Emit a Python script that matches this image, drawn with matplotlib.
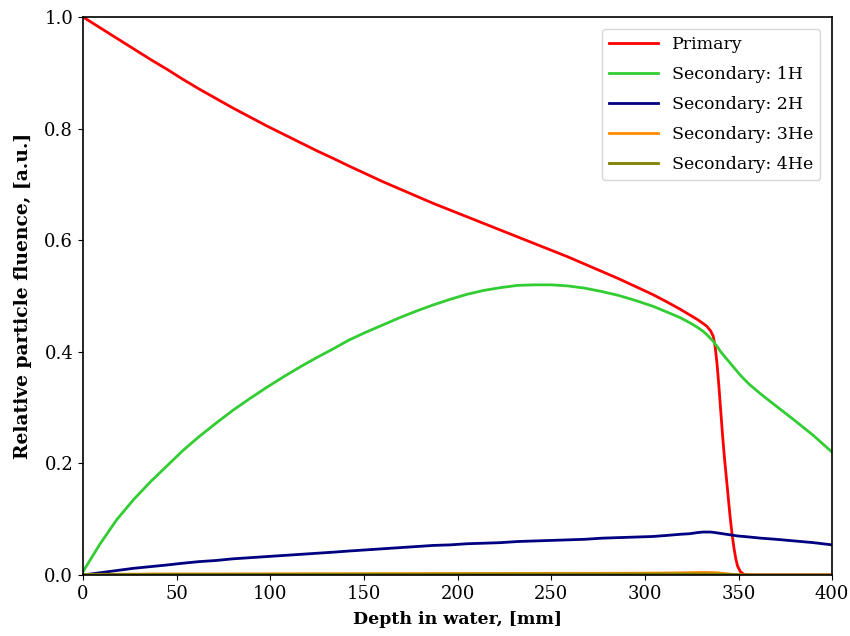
import matplotlib
matplotlib.use('Agg')
import matplotlib.pyplot as plt
import numpy as np

# depth grid in mm
depth = [0, 9, 18, 27, 36, 45, 53, 62, 71, 80, 89, 98, 107, 116, 125, 134, 142, 151,
         160, 169, 178, 187, 196, 205, 214, 223, 232, 241, 250, 259, 268, 277, 286,
         295, 304, 312, 319, 324, 328, 331, 333, 335, 336.5, 337.5, 338.5, 339.5,
         340.5, 341.5, 342.5, 343.5, 344.5, 345.5, 346.5, 347.5, 348.5, 349.5, 351,
         353, 356, 362, 370, 380, 390, 400]

primary = [1.0, 0.981, 0.962, 0.943, 0.924, 0.906, 0.889, 0.871, 0.854, 0.837, 0.821,
           0.805, 0.790, 0.775, 0.760, 0.746, 0.733, 0.719, 0.705, 0.692, 0.679, 0.666,
           0.654, 0.642, 0.630, 0.618, 0.606, 0.594, 0.582, 0.570, 0.557, 0.544, 0.531,
           0.517, 0.503, 0.489, 0.476, 0.466, 0.458, 0.451, 0.446, 0.438, 0.428, 0.410,
           0.380, 0.340, 0.295, 0.250, 0.210, 0.175, 0.140, 0.105, 0.075, 0.050, 0.030,
           0.016, 0.006, 0.001, 0.0, 0.0, 0.0, 0.0, 0.0, 0.0]

sec_1h = [0.006, 0.055, 0.099, 0.135, 0.167, 0.196, 0.222, 0.248, 0.272, 0.295, 0.316,
          0.336, 0.355, 0.373, 0.390, 0.406, 0.421, 0.435, 0.448, 0.461, 0.473, 0.484,
          0.494, 0.503, 0.510, 0.515, 0.519, 0.520, 0.520, 0.518, 0.514, 0.508, 0.501,
          0.492, 0.482, 0.471, 0.461, 0.452, 0.444, 0.437, 0.431, 0.424, 0.419, 0.414,
          0.410, 0.405, 0.400, 0.396, 0.392, 0.388, 0.384, 0.380, 0.376, 0.372, 0.368,
          0.364, 0.358, 0.351, 0.341, 0.324, 0.303, 0.277, 0.250, 0.220]

sec_2h = [0.0, 0.004, 0.008, 0.012, 0.015, 0.018, 0.021, 0.024, 0.026, 0.029, 0.031,
          0.033, 0.035, 0.037, 0.039, 0.041, 0.043, 0.045, 0.047, 0.049, 0.051, 0.053,
          0.054, 0.056, 0.057, 0.058, 0.060, 0.061, 0.062, 0.063, 0.064, 0.066, 0.067,
          0.068, 0.069, 0.071, 0.073, 0.074, 0.076, 0.077, 0.077, 0.077, 0.0765, 0.076,
          0.0755, 0.075, 0.0745, 0.074, 0.0735, 0.073, 0.0725, 0.072, 0.0715, 0.071,
          0.0705, 0.070, 0.0695, 0.069, 0.068, 0.066, 0.064, 0.061, 0.058, 0.054]

sec_3he = [0.001, 0.0012, 0.0014, 0.0016, 0.0018, 0.002, 0.002, 0.002, 0.002, 0.002,
           0.0021, 0.0021, 0.0022, 0.0022, 0.0023, 0.0023, 0.0024, 0.0024, 0.0025,
           0.0025, 0.0026, 0.0026, 0.0027, 0.0027, 0.0028, 0.0028, 0.0029, 0.0029,
           0.003, 0.003, 0.0031, 0.0031, 0.0032, 0.0033, 0.0034, 0.0036, 0.0039, 0.0042,
           0.0045, 0.0046, 0.0046, 0.0045, 0.0044, 0.0042, 0.004, 0.0037, 0.0034, 0.003,
           0.0027, 0.0023, 0.002, 0.0016, 0.0013, 0.001, 0.0007, 0.0005, 0.0003, 0.0001,
           0.0, 0.0, 0.0, 0.0, 0.0, 0.0]

sec_4he = [0.001, 0.001, 0.001, 0.001, 0.001, 0.0011, 0.0011, 0.0011, 0.0011, 0.0012,
           0.0012, 0.0012, 0.0012, 0.0013, 0.0013, 0.0013, 0.0013, 0.0014, 0.0014,
           0.0014, 0.0014, 0.0015, 0.0015, 0.0015, 0.0015, 0.0016, 0.0016, 0.0016,
           0.0016, 0.0017, 0.0017, 0.0017, 0.0017, 0.0018, 0.0018, 0.0018, 0.0018,
           0.0018, 0.0018, 0.0018, 0.0018, 0.0017, 0.0017, 0.0016, 0.0016, 0.0015,
           0.0015, 0.0014, 0.0013, 0.0012, 0.0011, 0.001, 0.0009, 0.0008, 0.0007,
           0.0006, 0.0005, 0.0004, 0.0003, 0.0003, 0.0002, 0.0002, 0.0002, 0.0002]

labels = ['Primary', 'Secondary: 1H', 'Secondary: 2H', 'Secondary: 3He', 'Secondary: 4He']
colors = ['red', 'limegreen', 'navy', 'darkorange', 'olive']

plt.rcParams['font.family'] = ['DejaVu Serif']
plt.rcParams['font.size'] = 13

fig = plt.figure(figsize=(8.5, 6.36), dpi=100)
ax = fig.add_axes([0.0976, 0.0959, 0.8814, 0.8774])

for ys, lab, c in zip([primary, sec_1h, sec_2h, sec_3he, sec_4he], labels, colors):
    ax.plot(depth, ys, color=c, lw=2, label=lab, solid_joinstyle='round')

ax.set_xlim(0, 400)
ax.set_ylim(0, 1.0)
ax.set_xticks(np.arange(0, 401, 50))
ax.set_yticks([0.0, 0.2, 0.4, 0.6, 0.8, 1.0])
ax.set_xlabel('Depth in water, [mm]', fontweight='bold', fontsize=12.5, labelpad=6)
ax.set_ylabel('Relative particle fluence, [a.u.]', fontweight='bold', fontsize=13.5,
              labelpad=9)
for s in ax.spines.values():
    s.set_linewidth(1.2)
ax.legend(loc='upper right', fontsize=12.5, handlelength=2.8, labelspacing=0.75,
          borderaxespad=0.7)

fig.savefig('out.png', dpi=100)
